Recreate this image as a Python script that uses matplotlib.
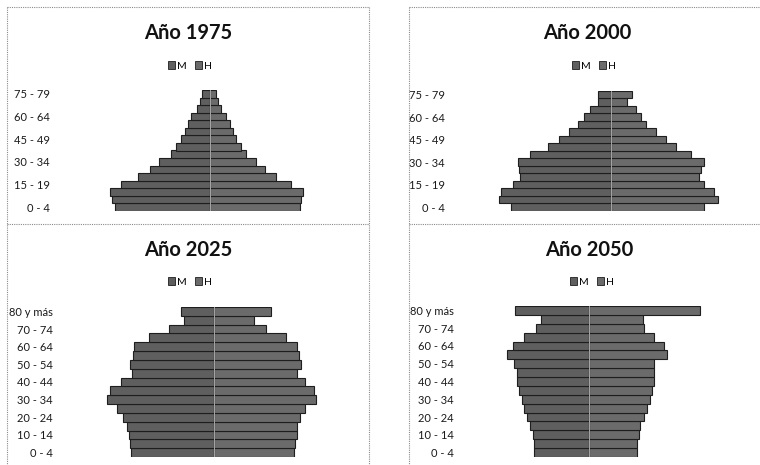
import matplotlib
matplotlib.use("Agg")
import matplotlib.pyplot as plt
from matplotlib.patches import Patch
from matplotlib.lines import Line2D

plt.rcParams['font.family'] = ['Lato', 'DejaVu Sans']

# ---------------- data (relative widths) ----------------
edades_16 = ['0 - 4', '5 - 9', '10 - 14', '15 - 19', '20 - 24', '25 - 29', '30 - 34',
             '35 - 39', '40 - 44', '45 - 49', '50 - 54', '55 - 59', '60 - 64',
             '65 - 69', '70 - 74', '75 - 79']
edades_17 = edades_16 + ['80 y más']

m_1975 = [95.0, 97.3, 100.0, 88.3, 71.7, 60.0, 50.7, 38.3, 33.3, 28.3, 25.0, 21.7, 18.3, 12.7, 10.0, 7.3]
h_1975 = [90.0, 91.7, 93.3, 81.7, 66.7, 55.0, 46.7, 36.7, 31.7, 26.7, 23.3, 20.0, 16.7, 11.7, 8.3, 6.7]

m_2000 = [100.0, 111.7, 110.0, 98.3, 90.7, 91.7, 93.3, 80.7, 62.7, 51.7, 41.7, 32.7, 26.7, 20.7, 12.7, 12.7]
h_2000 = [93.3, 106.7, 103.3, 93.3, 88.3, 90.0, 93.3, 80.0, 65.0, 55.0, 45.0, 35.0, 30.0, 25.0, 16.0, 20.7]

m_2025 = [82.7, 84.0, 85.0, 87.3, 90.7, 96.7, 106.7, 104.0, 93.3, 81.7, 84.0, 80.7, 80.0, 65.0, 45.0, 30.0, 33.3]
h_2025 = [80.0, 80.7, 83.3, 83.3, 86.0, 90.7, 101.7, 100.0, 90.7, 82.7, 86.7, 85.0, 83.3, 71.7, 51.7, 40.0, 56.7]

m_2050 = [55.0, 55.0, 55.7, 59.0, 61.7, 64.3, 66.7, 70.0, 71.7, 71.7, 75.0, 81.7, 75.7, 65.0, 52.3, 47.7, 73.3]
h_2050 = [48.3, 48.3, 50.0, 51.7, 55.0, 58.3, 61.7, 63.3, 65.7, 65.7, 65.7, 78.3, 75.0, 65.7, 55.7, 54.3, 111.0]

titulos = ['Año 1975', 'Año 2000', 'Año 2025', 'Año 2050']
leyenda = ['M', 'H']

# ---------------- layout ----------------
W, H = 760, 465
fig = plt.figure(figsize=(7.6, 4.65), dpi=100)
fig.patch.set_facecolor('white')

def fx(x):
    return x / W

def fy(y):
    return 1 - y / H

COL_M = '#5f5f5f'
COL_H = '#6b6b6b'
EDGE = '#1e1e1e'

panels = [
    dict(title=titulos[0], m=m_1975, h=h_1975, labels=edades_16, step=3,
         center=209.5, left=55, right=365, top=90, bottom=211,
         pcx=188, legx=190, ty=39, ly=66),
    dict(title=titulos[1], m=m_2000, h=h_2000, labels=edades_16, step=3,
         center=611, left=450, right=765, top=91, bottom=211,
         pcx=587.5, legx=594, ty=39, ly=66),
    dict(title=titulos[2], m=m_2025, h=h_2025, labels=edades_17, step=2,
         center=214, left=58, right=365, top=307, bottom=457,
         pcx=188, legx=190, ty=255.5, ly=282),
    dict(title=titulos[3], m=m_2050, h=h_2050, labels=edades_17, step=2,
         center=588.5, left=459, right=765, top=306, bottom=457,
         pcx=589, legx=592, ty=255.5, ly=282),
]

for p in panels:
    n = len(p['labels'])
    ax = fig.add_axes([fx(p['left']), fy(p['bottom']),
                       (p['right'] - p['left']) / W, (p['bottom'] - p['top']) / H])
    ys = list(range(n))
    ax.barh(ys, [-v for v in p['m']], height=1.0, color=COL_M, edgecolor=EDGE,
            linewidth=0.8, label=leyenda[0])
    ax.barh(ys, p['h'], height=1.0, color=COL_H, edgecolor=EDGE,
            linewidth=0.8, label=leyenda[1])
    ax.axvline(0, color='#bdbdbd', lw=0.6, zorder=3)
    ax.set_xlim(p['left'] - p['center'], p['right'] - p['center'])
    ax.set_ylim(-0.5, n - 0.5)
    ax.set_yticks(ys[::p['step']])
    ax.set_yticklabels(p['labels'][::p['step']], fontsize=8, color='#1a1a1a')
    ax.tick_params(axis='y', length=0, pad=3.6)
    ax.set_xticks([])
    for s in ax.spines.values():
        s.set_visible(False)
    ax.patch.set_alpha(0)

    fig.text(fx(p['pcx']), fy(p['ty']), p['title'], ha='center', va='baseline',
             fontsize=14.5, fontweight='bold', color='#111111')
    handles = [Patch(facecolor=COL_M, edgecolor=EDGE, linewidth=0.6, label=leyenda[0]),
               Patch(facecolor=COL_H, edgecolor=EDGE, linewidth=0.6, label=leyenda[1])]
    fig.legend(handles=handles, loc='center', ncol=2, frameon=False,
               bbox_to_anchor=(fx(p['legx']), fy(p['ly'])),
               fontsize=7.5, handlelength=0.7, handleheight=0.7,
               handletextpad=0.25, columnspacing=0.7, borderpad=0)

# ---------------- dotted panel borders ----------------
def seg(x0, y0, x1, y1):
    fig.add_artist(Line2D([fx(x0), fx(x1)], [fy(y0), fy(y1)], transform=fig.transFigure,
                          color='#8a8a8a', lw=0.8, ls=(0, (1, 1))))

seg(7, 7, 369, 7)
seg(7, 224, 369, 224)
seg(7, 7, 7, 465)
seg(369, 7, 369, 465)
seg(409, 7, 760, 7)
seg(409, 224, 760, 224)
seg(409, 7, 409, 465)

fig.savefig('out.png', dpi=100, facecolor='white')
